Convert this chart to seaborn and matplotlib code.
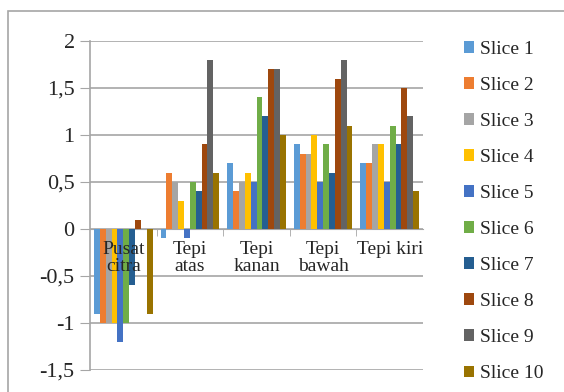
import numpy as np
import pandas as pd
import seaborn as sns
import matplotlib.pyplot as plt
from matplotlib.patches import Rectangle

categories = ["Pusat\ncitra", "Tepi\natas", "Tepi\nkanan", "Tepi\nbawah", "Tepi kiri"]
slices = ["Slice %d" % i for i in range(1, 11)]

# one list per slice, values for the five categories
slice_1 = [-0.9, -0.1, 0.7, 0.9, 0.7]
slice_2 = [-1.0, 0.6, 0.4, 0.8, 0.7]
slice_3 = [-1.0, 0.5, 0.5, 0.8, 0.9]
slice_4 = [-1.0, 0.3, 0.6, 1.0, 0.9]
slice_5 = [-1.2, -0.1, 0.5, 0.5, 0.5]
slice_6 = [-1.0, 0.5, 1.4, 0.9, 1.1]
slice_7 = [-0.6, 0.4, 1.2, 0.6, 0.9]
slice_8 = [0.1, 0.9, 1.7, 1.6, 1.5]
slice_9 = [0.0, 1.8, 1.7, 1.8, 1.2]
slice_10 = [-0.9, 0.6, 1.0, 1.1, 0.4]

values = [slice_1, slice_2, slice_3, slice_4, slice_5,
          slice_6, slice_7, slice_8, slice_9, slice_10]
colors = ["#5B9BD5", "#ED7D31", "#A5A5A5", "#FFC000", "#4472C4",
          "#70AD47", "#255E91", "#9E480E", "#636363", "#997300"]

rows = []
for s, vals in zip(slices, values):
    for c, v in zip(categories, vals):
        rows.append({"kategori": c, "slice": s, "nilai": v})
df = pd.DataFrame(rows)

sns.set_style("white")
plt.rcParams["font.family"] = ["Liberation Serif", "DejaVu Serif"]

fig = plt.figure(figsize=(5.64, 3.92), dpi=100)
ax = fig.add_axes([90 / 564, 1 - 370 / 392, (423 - 90) / 564, (370 - 41) / 392])

sns.barplot(data=df, x="kategori", y="nilai", hue="slice", palette=colors,
            width=0.88, saturation=1, linewidth=0, ax=ax, zorder=2)
ax.set_axisbelow(False)

ax.set_ylim(-1.5, 2)
ax.set_xlim(-0.5, len(categories) - 0.5)
yt = np.arange(-1.5, 2.01, 0.5)
ax.set_yticks(yt)
ax.set_yticklabels([("%g" % t).replace(".", ",") for t in yt], fontsize=16)
for t in yt:
    ax.axhline(t, color="#a6a6a6", lw=1.2, zorder=0)

ax.spines["bottom"].set_position(("data", 0))
ax.spines["bottom"].set_color("#a6a6a6")
ax.spines["bottom"].set_zorder(1)
ax.spines["left"].set_color("#a6a6a6")
ax.spines["left"].set_linewidth(1.2)
ax.spines["top"].set_visible(False)
ax.spines["right"].set_visible(False)
ax.tick_params(axis="y", which="major", length=7, color="#a6a6a6", pad=4, left=True)
ax.set_xticks(range(len(categories)))
ax.set_xticklabels(categories, fontsize=14, linespacing=0.95)
ax.tick_params(axis="x", which="major", length=0, pad=9)
ax.set_xticks(np.arange(0.5, len(categories) - 0.5, 1), minor=True)
ax.tick_params(axis="x", which="minor", length=5, color="#a6a6a6", bottom=True)
ax.set_xlabel("")
ax.set_ylabel("")

ax.legend(loc="upper left", bbox_to_anchor=(456 / 564, 1 - 33 / 392),
          bbox_transform=fig.transFigure, frameon=False, fontsize=14,
          handlelength=0.55, handleheight=0.55, handletextpad=0.3,
          labelspacing=0.98, borderaxespad=0)

fig.patches.append(Rectangle((8 / 564, -0.1), 1.2, 1 - 11 / 392 + 0.1,
                             transform=fig.transFigure, fill=False,
                             edgecolor="#a6a6a6", lw=1.2))

fig.savefig("out.png", dpi=100)
